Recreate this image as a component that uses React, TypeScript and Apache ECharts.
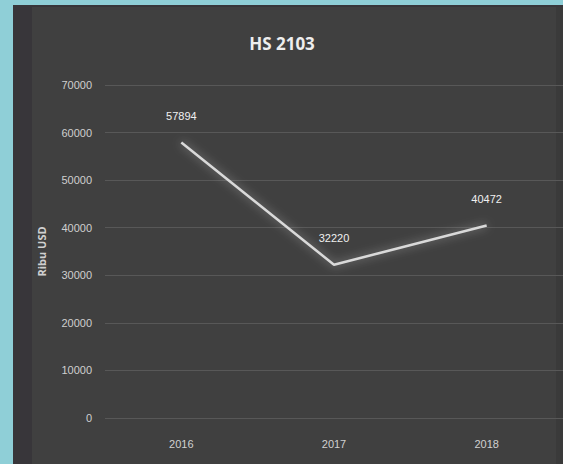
import React, { useEffect, useRef } from "react";
import * as echarts from "echarts";

const categories = ["2016", "2017", "2018"];
const values = [57894, 32220, 40472];
const yTicks = [0, 10000, 20000, 30000, 40000, 50000, 60000, 70000];
const titleText = "HS 2103";
const yAxisName = "Ribu USD";

export default function App() {
  const ref = useRef<HTMLDivElement>(null);
  useEffect(() => {
    if (!ref.current) return;
    const chart = echarts.init(ref.current, undefined, { renderer: "svg" });
    chart.setOption({
      animation: false,
      backgroundColor: "#8fcfd7",
      graphic: [
        { type: "rect", z: -10, shape: { x: 13, y: 5, width: 550, height: 459 }, style: { fill: "#38363a" }, silent: true },
        { type: "rect", z: -9, shape: { x: 32, y: 7, width: 524, height: 457 }, style: { fill: "#404040" }, silent: true },
        { type: "rect", z: -9, shape: { x: 556, y: 7, width: 7, height: 457 }, style: { fill: "#3a3a3a" }, silent: true },
      ],
      title: {
        text: titleText,
        left: 277,
        top: 30,
        textAlign: "center",
        textStyle: { color: "#eeeeee", fontSize: 17, fontWeight: "bold", fontFamily: "'Open Sans'" },
      },
      grid: { left: 105, top: 85, width: 462, height: 333, containLabel: false },
      xAxis: {
        type: "category",
        data: categories,
        boundaryGap: true,
        axisLine: { show: false },
        axisTick: { show: false },
        axisLabel: { color: "#d0d0d0", fontSize: 11, margin: 20, fontFamily: "'Liberation Sans Narrow', sans-serif" },
      },
      yAxis: {
        type: "value",
        min: yTicks[0],
        max: yTicks[yTicks.length - 1],
        interval: 10000,
        name: yAxisName,
        nameLocation: "middle",
        nameRotate: 90,
        nameGap: 58,
        nameTextStyle: { color: "#d0d0d0", fontSize: 11, fontWeight: "bold", fontFamily: "'Open Sans'" },
        axisLine: { show: false },
        axisTick: { show: false },
        axisLabel: {
          color: "#cfcfcf",
          fontSize: 11,
          margin: 13,
          fontFamily: "'Liberation Sans Narrow', sans-serif",
          formatter: (v: number) => String(v),
        },
        splitLine: { lineStyle: { color: "#585858", width: 1 } },
      },
      series: [
        {
          type: "line",
          data: values,
          symbol: "circle",
          symbolSize: 2,
          showSymbol: true,
          itemStyle: { color: "rgba(217,217,217,0)", borderWidth: 0 },
          lineStyle: { color: "#d9d9d9", width: 2.5, shadowColor: "rgba(255,255,255,0.45)", shadowBlur: 10 },
          label: {
            show: true,
            position: "top",
            distance: 20,
            color: "#f0f0f0",
            opacity: 1,
            fontSize: 11,
            fontFamily: "'Liberation Sans Narrow', sans-serif",
          },
        },
      ],
    });
    return () => chart.dispose();
  }, []);
  return <div ref={ref} style={{ position: "fixed", left: 0, top: 0, width: 563, height: 464 }} />;
}
